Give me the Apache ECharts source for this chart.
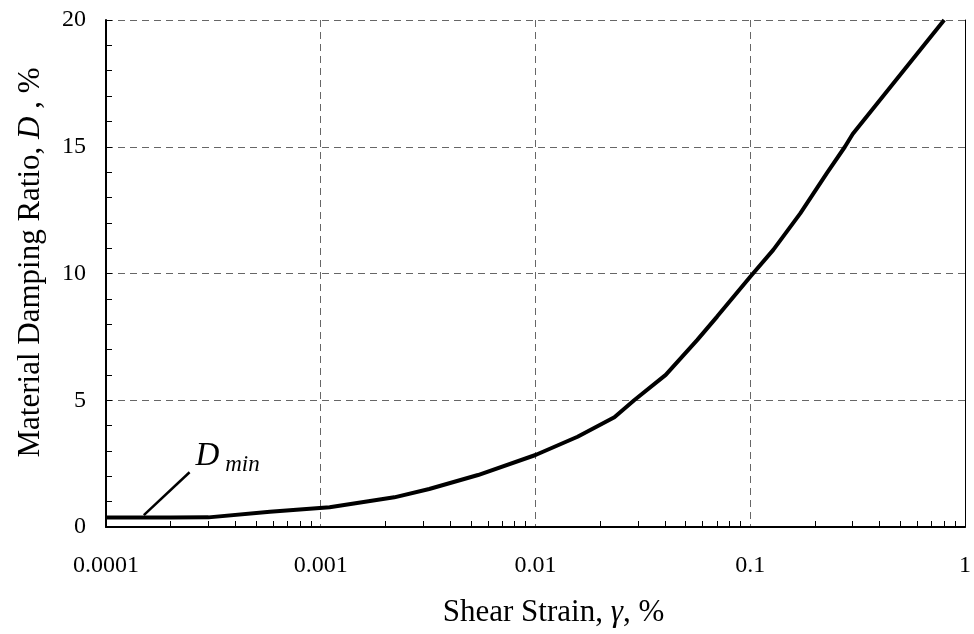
<!DOCTYPE html>
<html>
<head>
<meta charset="utf-8">
<script src="https://cdn.jsdelivr.net/npm/echarts@6/dist/echarts.min.js"></script>
<style>
  html, body { margin: 0; padding: 0; background: #fff; }
  #chart { width: 974px; height: 634px; }
</style>
</head>
<body>
<div id="chart"></div>
<script>
// shear strain (%) and material damping ratio (%)
const strain = [0.0001, 0.0002, 0.0003, 0.00058, 0.0011, 0.0022, 0.0032, 0.0054, 0.01, 0.0157,
    0.0233, 0.0288, 0.0404, 0.0567, 0.0701, 0.1, 0.128, 0.171, 0.227, 0.276, 0.3, 0.8];
const damping = [0.37, 0.37, 0.38, 0.6, 0.78, 1.17, 1.5, 2.05, 2.84, 3.56,
    4.33, 5.0, 6.0, 7.38, 8.3, 9.87, 10.93, 12.37, 13.95, 15.0, 15.5, 20];

const xTickLabels = ['0.0001', '0.001', '0.01', '0.1', '1'];
const xMinorTicks = [2e-4, 3e-4, 4e-4, 5e-4, 6e-4, 7e-4, 8e-4, 9e-4,
    2e-3, 3e-3, 4e-3, 5e-3, 6e-3, 7e-3, 8e-3, 9e-3,
    0.02, 0.03, 0.04, 0.05, 0.06, 0.07, 0.08, 0.09,
    0.2, 0.3, 0.4, 0.5, 0.6, 0.7, 0.8, 0.9];

// leader line for the D_min note: [strain, damping]
const dminLeader = [[0.00015, 0.47], [0.000245, 2.16]];

const serif = 'Liberation Serif';

let option = {
    animation: false,
    grid: { left: 106, right: 5, top: 20, bottom: 107 },

    xAxis: [
        {
            type: 'log',
            logBase: 10,
            min: 0.0001,
            max: 1,
            name: 'Shear Strain, {i|γ}, %',
            nameLocation: 'middle',
            nameGap: 70,
            nameTextStyle: {
                fontFamily: serif, fontSize: 31, color: '#000',
                padding: [0, 0, 0, 36],
                rich: { i: { fontFamily: serif, fontSize: 31, fontStyle: 'italic', color: '#000' } }
            },
            axisLine: { show: true, lineStyle: { color: '#000', width: 2 } },
            axisTick: { show: false },
            axisLabel: {
                fontFamily: serif, fontSize: 24, color: '#000', margin: 27,
                formatter: function (v) {
                    return xTickLabels[Math.round(Math.log10(v)) + 4];
                }
            },
            splitLine: { show: true, lineStyle: { color: '#666', type: [7, 5], width: 1 } }
        },
        {
            // minor ticks only
            type: 'log',
            logBase: 10,
            min: 0.0001,
            max: 1,
            position: 'bottom',
            axisLine: { show: false },
            axisLabel: { show: false },
            splitLine: { show: false },
            axisTick: {
                show: true, inside: true, length: 6,
                customValues: xMinorTicks,
                lineStyle: { color: '#000', width: 1 }
            }
        }
    ],

    yAxis: [
        {
            type: 'value',
            min: 0,
            max: 20,
            interval: 5,
            name: 'Material Damping Ratio, {i|D} , %',
            nameLocation: 'middle',
            nameGap: 60,
            nameTextStyle: {
                fontFamily: serif, fontSize: 31, color: '#000',
                padding: [0, 0, 0, 22],
                rich: { i: { fontFamily: serif, fontSize: 31, fontStyle: 'italic', color: '#000' } }
            },
            axisLine: { show: true, lineStyle: { color: '#000', width: 2 } },
            axisTick: { show: true, inside: true, length: 6, lineStyle: { color: '#000', width: 1 } },
            minorTick: { show: true, splitNumber: 5, length: 6, lineStyle: { color: '#000', width: 1 } },
            axisLabel: { fontFamily: serif, fontSize: 24, color: '#000', margin: 20 },
            splitLine: { show: true, lineStyle: { color: '#666', type: [7, 5], width: 1 } }
        },
        {
            // right frame
            type: 'value',
            min: 0,
            max: 20,
            position: 'right',
            axisLine: { show: true, lineStyle: { color: '#000', width: 1 } },
            axisTick: { show: false },
            axisLabel: { show: false },
            splitLine: { show: false }
        }
    ],

    series: [
        {
            type: 'line',
            data: strain.map((s, i) => [s, damping[i]]),
            showSymbol: false,
            smooth: false,
            lineStyle: { color: '#000', width: 4 },
            z: 5,
            markLine: {
                silent: true,
                symbol: ['none', 'none'],
                lineStyle: { color: '#000', width: 2.5, type: 'solid' },
                label: {
                    show: true,
                    position: 'end',
                    distance: 0,
                    align: 'left',
                    verticalAlign: 'bottom',
                    offset: [6, 4],
                    formatter: '{d|D}{s| min}',
                    rich: {
                        d: { fontFamily: serif, fontSize: 33, fontStyle: 'italic', color: '#000' },
                        s: { fontFamily: serif, fontSize: 23, fontStyle: 'italic', color: '#000', padding: [16, 0, 0, 0] }
                    }
                },
                data: [[{ coord: dminLeader[0] }, { coord: dminLeader[1] }]]
            }
        }
    ]
};

var myChart = echarts.init(document.getElementById('chart'));
myChart.setOption(option, true);
</script>
</body>
</html>
